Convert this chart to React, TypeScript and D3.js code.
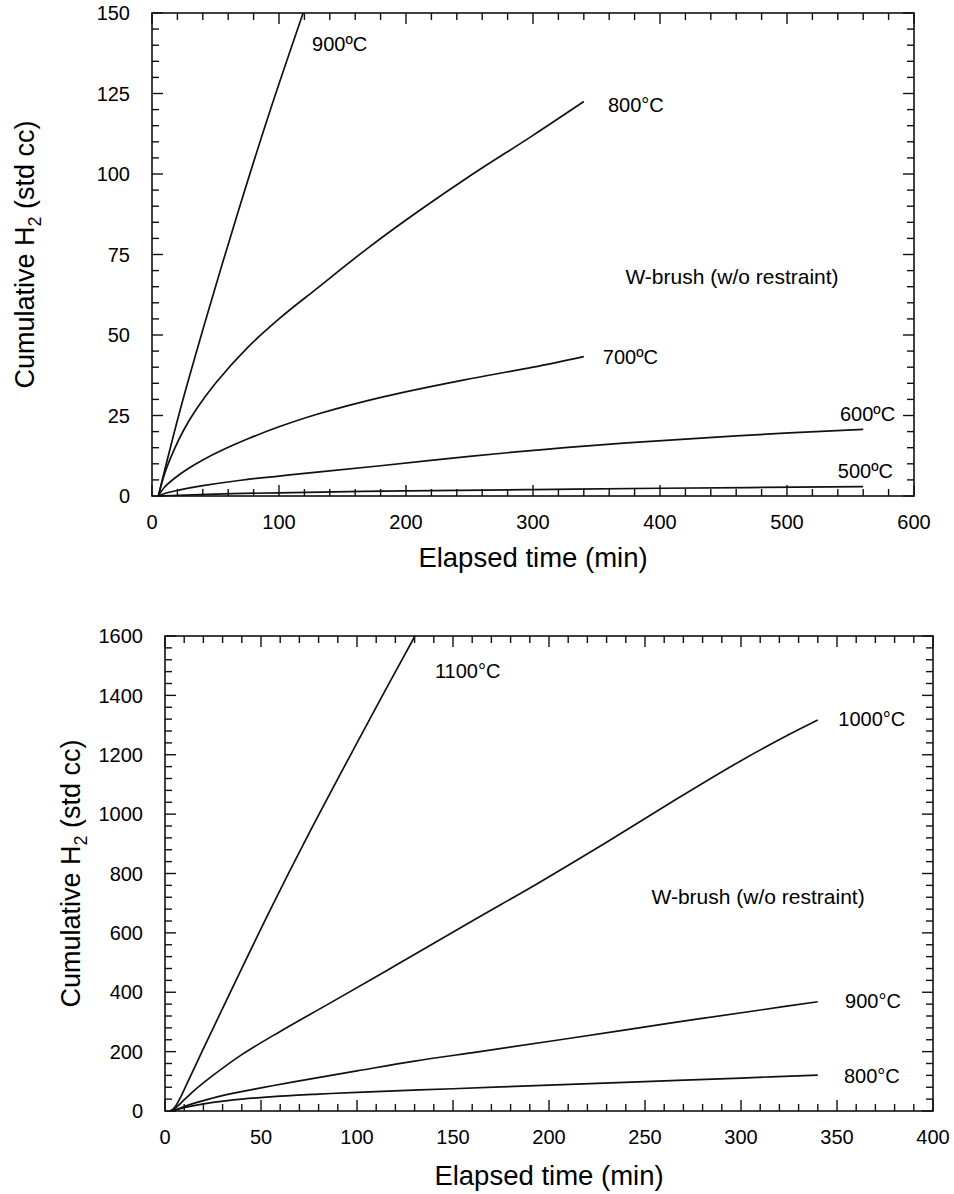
import React from 'react';
import * as d3 from 'd3';

const FONT = '"Liberation Sans", Arial, Helvetica, sans-serif';

// ---------- Top panel data (time in min, cumulative H2 in std cc) ----------
const topXTicks = [0, 100, 200, 300, 400, 500, 600];
const topYTicks = [0, 25, 50, 75, 100, 125, 150];
const top900: [number, number][] = [[5, 0], [10, 8], [22, 26.5], [44, 57], [68, 88.5], [92, 118.5], [119, 150]];
const top800: [number, number][] = [[5, 0], [10, 7], [17, 14], [25, 20.5], [35, 27], [50, 35], [75, 46], [100, 55], [130, 64.5], [170, 77], [210, 88.5], [250, 99.3], [300, 112], [340, 122.5]];
const top700: [number, number][] = [[5, 0], [10, 2.8], [18, 5.6], [28, 8.4], [40, 11.2], [55, 14.2], [77, 18], [100, 21.5], [130, 25.4], [182, 30.8], [245, 36], [300, 40], [340, 43.3]];
const top600: [number, number][] = [[5, 0], [12, 1], [22, 1.9], [40, 3.2], [70, 4.9], [100, 6.2], [132, 7.5], [180, 9.4], [250, 12.3], [310, 14.5], [374, 16.5], [460, 18.7], [560, 20.7]];
const top500: [number, number][] = [[5, 0], [50, 0.6], [100, 1.0], [200, 1.6], [300, 2.0], [400, 2.4], [560, 2.9]];
const topLabels = ['900ºC', '800°C', '700ºC', '600ºC', '500ºC'];

// ---------- Bottom panel data ----------
const botXTicks = [0, 50, 100, 150, 200, 250, 300, 350, 400];
const botYTicks = [0, 200, 400, 600, 800, 1000, 1200, 1400, 1600];
const bot1100: [number, number][] = [[2.6, 0], [5, 12], [8, 45], [12, 100], [20, 210], [37, 440], [55, 680], [75, 935], [100, 1240], [115, 1420], [130.2, 1600]];
const bot1000: [number, number][] = [[4, 0], [8, 25], [15, 68], [25, 120], [40, 190], [60, 268], [85, 360], [120, 490], [160, 640], [195, 770], [230, 905], [265, 1045], [300, 1180], [325, 1268], [340, 1317]];
const bot900: [number, number][] = [[4, 0], [10, 15], [20, 35], [32, 55], [50, 78], [67, 98], [100, 135], [130, 168], [164, 200], [211, 245], [263, 296], [312, 342], [340, 368]];
const bot800: [number, number][] = [[4, 0], [8, 8], [15, 18], [25, 29], [40, 40], [60, 50], [80, 57], [100, 63], [150, 75], [200, 87], [250, 99], [300, 111], [340, 121]];
const botLabels = ['1100°C', '1000°C', '900°C', '800°C'];

const noteText = 'W-brush (w/o restraint)';

type Label = { text: string; x: number; y: number; anchor?: 'start' | 'middle' | 'end'; size?: number };

type PanelProps = {
  left: number; top: number; right: number; bottom: number;
  xMax: number; yMax: number;
  xTicks: number[]; yTicks: number[];
  xMinor: number; yMinor: number;
  series: [number, number][][];
  labels: Label[];
  xTitleY: number; yTitleX: number;
};

function Panel(p: PanelProps) {
  const x = d3.scaleLinear().domain([0, p.xMax]).range([p.left, p.right]);
  const y = d3.scaleLinear().domain([0, p.yMax]).range([p.bottom, p.top]);
  const line = d3.line<[number, number]>().x(d => x(d[0])).y(d => y(d[1])).curve(d3.curveCatmullRom.alpha(0.5));
  const xMin = d3.range(0, p.xMax + 1e-9, p.xMinor);
  const yMin = d3.range(0, p.yMax + 1e-9, p.yMinor);
  const majX = new Set(p.xTicks);
  const majY = new Set(p.yTicks);
  const MAJ = 11, MIN = 7;
  const stroke = '#111';
  return (
    <g>
      {p.series.map((s, i) => (
        <path key={i} d={line(s) || ''} fill="none" stroke={stroke} strokeWidth={1.7} />
      ))}
      <rect x={p.left} y={p.top} width={p.right - p.left} height={p.bottom - p.top} fill="none" stroke={stroke} strokeWidth={1.6} />
      {xMin.map((v, i) => {
        const L = majX.has(v) ? MAJ : MIN;
        const xx = x(v);
        return (
          <g key={'xt' + i}>
            <line x1={xx} x2={xx} y1={p.bottom} y2={p.bottom - L} stroke={stroke} strokeWidth={1.4} />
            <line x1={xx} x2={xx} y1={p.top} y2={p.top + L} stroke={stroke} strokeWidth={1.4} />
          </g>
        );
      })}
      {yMin.map((v, i) => {
        const L = majY.has(v) ? MAJ : MIN;
        const yy = y(v);
        return (
          <g key={'yt' + i}>
            <line x1={p.left} x2={p.left + L} y1={yy} y2={yy} stroke={stroke} strokeWidth={1.4} />
            <line x1={p.right} x2={p.right - L} y1={yy} y2={yy} stroke={stroke} strokeWidth={1.4} />
          </g>
        );
      })}
      {p.xTicks.map(v => (
        <text key={'xl' + v} x={x(v)} y={p.bottom + 33} textAnchor="middle" fontSize={20} fontFamily={FONT} fill="#000">{v}</text>
      ))}
      {p.yTicks.map(v => (
        <text key={'yl' + v} x={p.left - 22} y={y(v)} dy="0.36em" textAnchor="end" fontSize={20} fontFamily={FONT} fill="#000">{v}</text>
      ))}
      {p.labels.map((l, i) => (
        <text key={'lb' + i} x={x(l.x)} y={y(l.y)} textAnchor={l.anchor || 'start'} fontSize={l.size || 20} fontFamily={FONT} fill="#000">{l.text}</text>
      ))}
      <text x={(p.left + p.right) / 2} y={p.xTitleY} textAnchor="middle" fontSize={27.5} fontFamily={FONT} fill="#000">Elapsed time (min)</text>
      <text transform={`translate(${p.yTitleX},${(p.top + p.bottom) / 2}) rotate(-90)`} textAnchor="middle" fontSize={27} fontFamily={FONT} fill="#000">
        Cumulative H<tspan fontSize={18} dy={7}>2</tspan><tspan dy={-7}> (std cc)</tspan>
      </text>
    </g>
  );
}

export default function App() {
  return (
    <svg width={954} height={1194} style={{ position: 'absolute', left: 0, top: 0, background: '#fff' }}>
      <rect x={0} y={0} width={954} height={1194} fill="#fff" />
      <Panel
        left={152} top={13} right={914} bottom={496}
        xMax={600} yMax={150}
        xTicks={topXTicks} yTicks={topYTicks}
        xMinor={20} yMinor={5}
        series={[top900, top800, top700, top600, top500]}
        labels={[
          { text: topLabels[0], x: 126, y: 138.2 },
          { text: topLabels[1], x: 359, y: 119.3 },
          { text: noteText, x: 456.7, y: 65.8, anchor: 'middle', size: 21 },
          { text: topLabels[2], x: 355, y: 41 },
          { text: topLabels[3], x: 541.7, y: 23.3 },
          { text: topLabels[4], x: 540, y: 5.7 },
        ]}
        xTitleY={567} yTitleX={34}
      />
      <Panel
        left={165} top={636} right={933} bottom={1111}
        xMax={400} yMax={1600}
        xTicks={botXTicks} yTicks={botYTicks}
        xMinor={10} yMinor={40}
        series={[bot1100, bot1000, bot900, bot800]}
        labels={[
          { text: botLabels[0], x: 140.6, y: 1458 },
          { text: botLabels[1], x: 350.7, y: 1297 },
          { text: noteText, x: 308.9, y: 697, anchor: 'middle', size: 21 },
          { text: botLabels[2], x: 354.2, y: 348 },
          { text: botLabels[3], x: 353.6, y: 95 },
        ]}
        xTitleY={1185} yTitleX={80}
      />
    </svg>
  );
}
